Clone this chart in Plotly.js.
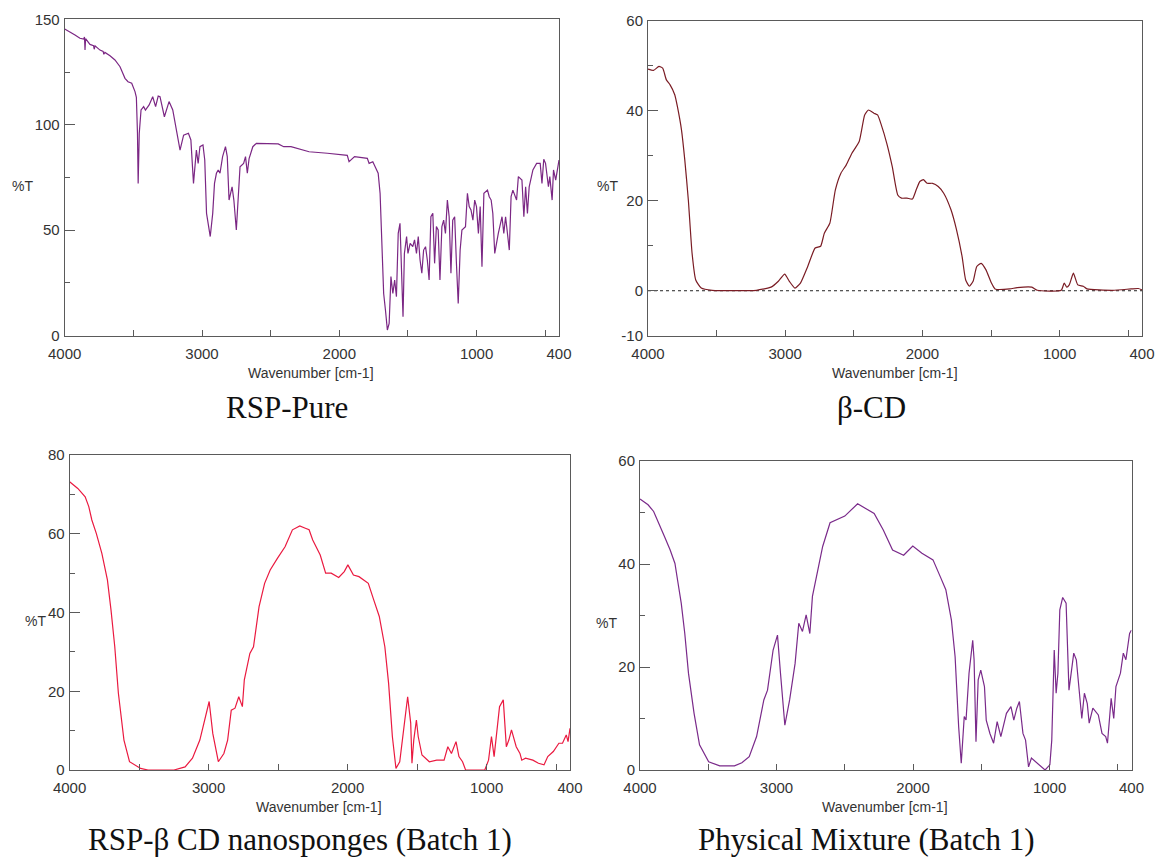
<!DOCTYPE html>
<html>
<head>
<meta charset="utf-8">
<script src="https://cdn.plot.ly/plotly-3.0.1.min.js"></script>
<style>
  html, body { margin: 0; padding: 0; background: #ffffff; }
  #chart { width: 1156px; height: 859px; }
</style>
</head>
<body>
<div id="chart"></div>
<script>
// ---------------- DATA (wavenumber in cm-1, transmittance in %T) ----------------
const rspPureWavenumber = [4000,3961,3925,3889,3862,3856,3852,3848,3816,3790,3785,3779,3743,3720,3715,3707,3670,3634,3597,3561,3539,3512,3488,3478,3470,3465,3457,3444,3425,3412,3385,3359,3338,3319,3306,3274,3240,3213,3187,3160,3134,3099,3081,3062,3041,3028,3015,2993,2980,2967,2940,2922,2909,2895,2882,2869,2850,2829,2816,2803,2781,2768,2750,2736,2723,2697,2683,2670,2657,2630,2604,2445,2405,2352,2220,2087,1942,1929,1889,1796,1783,1756,1717,1703,1690,1677,1664,1650,1637,1624,1610,1597,1584,1571,1558,1545,1536,1526,1510,1500,1484,1465,1452,1438,1425,1412,1399,1386,1372,1359,1346,1333,1319,1306,1293,1280,1267,1253,1240,1227,1213,1200,1187,1174,1160,1147,1134,1120,1107,1081,1067,1054,1041,1027,1014,1001,987,974,961,947,921,908,894,882,868,842,815,802,789,762,749,736,709,696,670,656,643,630,617,590,563,537,524,511,498,477,467,450,440,424,410,400];
const rspPureT = [145.4,144.1,142.6,141.0,140.6,141.6,135.5,140.8,138.1,137.5,135.8,137.4,135.4,134.8,133.4,134.3,132.7,130.7,127.5,122.0,120.4,119.7,115.7,113.0,96.0,72.2,96.0,107.0,108.6,107.0,109.4,113.3,108.6,113.6,113.3,103.8,111.0,107.0,97.5,88.0,95.1,96.0,92.8,72.2,88.0,81.7,89.6,90.4,83.3,58.0,47.0,58.0,72.2,77.0,78.6,77.0,84.9,89.6,84.9,64.3,70.6,64.3,50.1,69.0,80.1,81.7,84.9,77.0,84.0,89.6,91.2,90.9,89.6,89.6,87.2,86.5,85.5,82.5,84.9,84.1,81.7,82.5,77.0,67.5,39.0,20.0,12.2,2.7,5.8,28.0,20.0,26.4,18.5,48.5,53.3,23.2,9.0,39.0,47.0,39.0,43.8,42.2,45.4,39.0,47.0,35.9,29.6,40.6,42.2,35.9,26.4,56.4,58.0,34.3,51.7,50.1,26.4,51.7,54.8,48.5,64.3,56.4,29.6,54.8,56.4,34.3,15.3,40.6,50.1,51.7,67.5,61.2,59.6,54.8,64.3,61.2,48.5,61.2,32.7,67.5,69.0,65.9,64.3,58.0,39.0,48.5,56.4,48.5,56.4,40.6,65.9,69.0,64.3,75.4,73.8,56.4,70.6,58.0,70.6,78.6,81.7,81.7,72.2,83.6,81.7,70.6,75.4,64.3,78.6,73.8,78.6,83.3];

const betaCdWavenumber = [4000,3960,3920,3893,3866,3839,3805,3786,3756,3732,3706,3679,3652,3612,3532,3210,3103,3050,3004,2970,2929,2889,2836,2782,2742,2715,2675,2635,2595,2555,2514,2461,2421,2394,2354,2327,2300,2260,2220,2180,2153,2113,2073,2046,2019,1993,1966,1926,1885,1845,1792,1752,1711,1685,1658,1631,1604,1572,1538,1497,1471,1364,1310,1203,1163,989,967,949,930,900,868,828,801,614,480,427,400];
const betaCdT = [49.3,49.0,49.9,49.5,46.9,45.8,43.6,41.0,35.8,29.1,20.2,8.4,2.4,0.6,0.1,0.1,0.8,2.1,3.7,2.1,0.6,1.7,5.4,9.5,9.9,12.8,15.0,22.4,26.1,28.0,30.6,33.2,39.1,40.2,39.5,39.1,36.9,32.8,27.6,21.3,20.6,20.6,20.4,22.4,24.3,24.7,23.9,23.9,23.2,21.7,18.0,13.6,7.6,2.4,1.0,2.1,5.4,6.1,4.7,1.7,0.4,0.4,0.7,0.8,0.1,0.1,1.7,0.8,1.3,3.9,1.3,1.0,0.4,0.1,0.4,0.5,0.2];

const nanospongeWavenumber = [4000,3941,3888,3862,3840,3808,3768,3728,3702,3675,3649,3609,3569,3489,3436,3249,3169,3116,3063,3023,2996,2970,2930,2890,2863,2837,2810,2783,2757,2743,2703,2677,2637,2597,2557,2504,2450,2397,2344,2304,2277,2251,2197,2158,2118,2064,2024,1998,1958,1918,1851,1812,1772,1732,1705,1678,1652,1625,1598,1568,1546,1537,1524,1505,1492,1465,1412,1359,1306,1279,1253,1220,1199,1173,1151,1013,986,965,946,928,907,880,858,840,821,787,760,747,720,667,627,587,560,520,480,454,427,414,400];
const nanospongeT = [73.2,71.5,69.4,66.9,63.5,60.1,55.0,48.3,40.6,31.3,19.5,7.6,2.1,0.4,0.0,0.0,0.8,3.0,7.6,13.5,17.4,9.3,2.1,4.2,7.6,15.2,15.7,18.6,16.1,22.9,29.6,31.3,41.5,47.4,50.8,53.8,56.7,61.0,62.0,61.4,61.0,58.4,54.6,50.0,50.0,48.9,50.4,52.1,49.5,49.1,47.4,43.2,39.0,31.3,22.0,8.5,0.4,2.1,10.2,18.6,11.9,1.7,7.6,12.7,8.5,3.8,2.1,2.5,2.5,5.9,4.2,7.2,3.4,2.1,0.0,0.0,2.5,8.5,3.4,8.9,16.1,17.8,5.9,7.6,10.2,5.9,4.2,2.5,3.0,2.5,1.7,1.3,3.4,4.7,6.8,6.8,8.9,7.2,10.6];

const mixtureWavenumber = [4000,3941,3900,3860,3820,3779,3744,3725,3698,3672,3645,3604,3564,3497,3416,3308,3254,3200,3146,3093,3066,3025,2993,2971,2939,2904,2864,2837,2810,2783,2756,2737,2702,2662,2608,2500,2406,2352,2285,2218,2150,2069,2002,1935,1854,1800,1760,1719,1692,1666,1647,1625,1612,1590,1563,1553,1539,1523,1504,1477,1464,1437,1410,1384,1357,1316,1283,1262,1240,1221,1195,1176,1154,1133,1100,1060,1033,998,984,966,952,939,925,904,879,858,823,804,777,764,745,724,710,683,643,616,589,576,549,530,514,481,460,441,414,400];
const mixtureT = [52.6,51.5,50.2,47.9,45.3,42.7,40.1,36.9,32.4,26.5,18.8,11.0,4.9,1.6,0.8,0.8,1.4,2.6,6.5,13.6,15.5,23.3,26.2,18.8,8.7,13.6,20.7,28.5,26.9,30.1,26.5,33.7,38.2,43.4,48.0,49.3,51.7,50.8,49.8,46.6,42.7,41.7,43.5,42.1,40.8,37.5,35.0,29.1,22.0,8.4,1.3,10.4,9.7,18.8,25.2,21.4,5.5,17.5,19.4,16.2,9.7,7.1,5.2,9.4,6.5,11.0,12.3,9.7,12.0,13.3,7.1,5.8,0.6,2.3,1.6,0.6,0.0,1.0,5.8,23.3,14.9,18.8,31.1,33.5,32.4,15.5,22.7,21.4,14.2,10.0,14.9,12.9,9.1,12.0,10.7,7.1,6.5,5.2,13.9,10.0,16.2,18.8,22.7,21.4,26.5,27.2];

// Tick labels
const xTickValues = [4000,3500,3000,2500,2000,1500,1000,500,400];
const xTickLabels = ['4000','','3000','','2000','','1000','','400'];
const yTicksPure = [0,50,100,150];
const yMinorPure = [25,75,125];
const yTicksBetaCd = [-10,0,20,40,60];
const yMinorBetaCd = [10,30,50];
const yTicksNano = [0,20,40,60,80];
const yMinorNano = [10,30,50,70];
const yTicksMix = [0,20,40,60];
const yMinorMix = [10,30,50];

const panelCaptions = ['RSP-Pure', 'β-CD', 'RSP-β CD nanosponges (Batch 1)', 'Physical Mixture (Batch 1)'];
const xTitleText = 'Wavenumber [cm-1]';
const yTitleText = '%T';

// ---------------- LAYOUT HELPERS ----------------
const W = 1156, H = 859;
const px = v => v / W;
const py = v => 1 - v / H;

const tickFont = { family: 'Liberation Sans, Arial, sans-serif', size: 15, color: '#333333' };
const frameColor = '#5a5a5a';

function xAxis(left, right, anchor) {
  return {
    domain: [px(left), px(right)], anchor: anchor,
    range: [4000, 400], autorange: false,
    tickmode: 'array', tickvals: xTickValues, ticktext: xTickLabels,
    ticks: 'inside', ticklen: 6, tickcolor: frameColor, tickwidth: 1,
    showline: true, mirror: true, linecolor: frameColor, linewidth: 1,
    showgrid: false, zeroline: false, tickfont: tickFont, ticklabelstandoff: 4
  };
}
function yAxis(top, bottom, anchor, range, major, minor) {
  return {
    domain: [py(bottom), py(top)], anchor: anchor,
    range: range, autorange: false,
    tickmode: 'array', tickvals: major, ticktext: major.map(String),
    ticks: 'inside', ticklen: 10, tickcolor: frameColor, tickwidth: 1,
    minor: { tickmode: 'array', tickvals: minor, ticks: 'inside', ticklen: 5, tickcolor: frameColor, tickwidth: 1, showgrid: false },
    showline: true, mirror: true, linecolor: frameColor, linewidth: 1,
    showgrid: false, zeroline: false, tickfont: tickFont, ticklabelstandoff: 1
  };
}

const traces = [
  { x: rspPureWavenumber, y: rspPureT, xaxis: 'x', yaxis: 'y', type: 'scatter', mode: 'lines',
    line: { color: '#7b2784', width: 1.2 }, hoverinfo: 'x+y' },
  { x: betaCdWavenumber, y: betaCdT, xaxis: 'x2', yaxis: 'y2', type: 'scatter', mode: 'lines',
    line: { color: '#7a1c24', width: 1.2, shape: 'spline', smoothing: 0.5 }, hoverinfo: 'x+y' },
  { x: nanospongeWavenumber, y: nanospongeT, xaxis: 'x3', yaxis: 'y3', type: 'scatter', mode: 'lines',
    line: { color: '#ea1a40', width: 1.2 }, hoverinfo: 'x+y' },
  { x: mixtureWavenumber, y: mixtureT, xaxis: 'x4', yaxis: 'y4', type: 'scatter', mode: 'lines',
    line: { color: '#7a2a8a', width: 1.2 }, hoverinfo: 'x+y' }
];

const labelFont = { family: 'Liberation Sans, Arial, sans-serif', size: 14, color: '#333333' };
const captionFont = { family: 'Liberation Serif, Times New Roman, serif', size: 31, color: '#111111' };

function ann(text, x, y, font) {
  return { text: text, x: px(x), y: py(y), xref: 'paper', yref: 'paper',
           xanchor: 'center', yanchor: 'middle', showarrow: false, font: font };
}

const layout = {
  width: W, height: H,
  margin: { l: 0, r: 0, t: 0, b: 0 },
  paper_bgcolor: '#ffffff', plot_bgcolor: '#ffffff',
  showlegend: false,
  xaxis: xAxis(64.7, 559, 'y'),
  yaxis: yAxis(19.3, 335.7, 'x', [0, 150], yTicksPure, yMinorPure),
  xaxis2: xAxis(648, 1142, 'y2'),
  yaxis2: yAxis(21, 335.7, 'x2', [-10, 60], yTicksBetaCd, yMinorBetaCd),
  xaxis3: xAxis(69.6, 570, 'y3'),
  yaxis3: yAxis(455, 770, 'x3', [0, 80], yTicksNano, yMinorNano),
  xaxis4: xAxis(640, 1131.5, 'y4'),
  yaxis4: yAxis(461, 770, 'x4', [0, 60], yTicksMix, yMinorMix),
  shapes: [
    { type: 'line', xref: 'x2 domain', yref: 'y2', x0: 0, x1: 1, y0: 0, y1: 0,
      line: { color: '#222222', width: 1, dash: 'dot' }, layer: 'below' }
  ],
  annotations: [
    ann(yTitleText, 22, 186, labelFont),
    ann(yTitleText, 607, 186, labelFont),
    ann(yTitleText, 35, 621, labelFont),
    ann(yTitleText, 606, 623, labelFont),
    ann(xTitleText, 311, 373, labelFont),
    ann(xTitleText, 895, 373, labelFont),
    ann(xTitleText, 319, 807, labelFont),
    ann(xTitleText, 885, 807, labelFont),
    ann(panelCaptions[0], 287, 407, captionFont),
    ann(panelCaptions[1], 871, 407, captionFont),
    ann(panelCaptions[2], 300, 839, captionFont),
    ann(panelCaptions[3], 866, 839, captionFont)
  ]
};

Plotly.newPlot('chart', traces, layout, { displayModeBar: false, staticPlot: true });
</script>
</body>
</html>
